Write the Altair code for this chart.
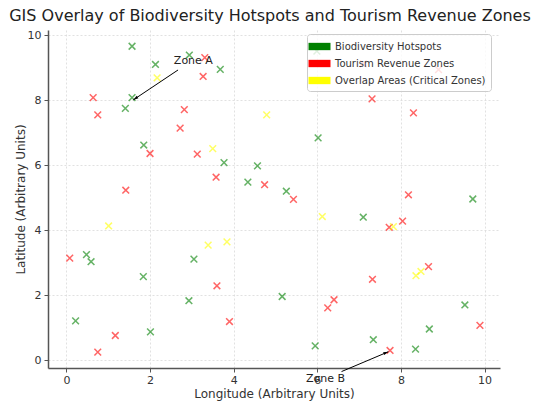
import altair as alt
import pandas as pd

# ---- data ----
categories = ["Biodiversity Hotspots", "Tourism Revenue Zones", "Overlap Areas (Critical Zones)"]
colors = ["green", "red", "yellow"]

bio_x = [1.57, 2.13, 2.94, 3.68, 1.57, 1.41, 1.85, 3.77, 4.57, 4.34, 5.26, 6.02, 5.99, 9.72,
         7.10, 5.16, 9.53, 8.68, 5.95, 7.34, 8.35, 0.48, 0.59, 3.05, 1.84, 2.93, 0.22, 2.01]
bio_y = [9.66, 9.10, 9.39, 8.95, 8.08, 7.75, 6.62, 6.08, 5.98, 5.48, 5.20, 6.84, 9.51, 4.96,
         4.40, 1.96, 1.70, 0.96, 0.44, 0.63, 0.34, 3.25, 3.03, 3.11, 2.57, 1.83, 1.21, 0.87]

tour_x = [3.31, 3.27, 0.64, 0.75, 2.82, 2.72, 2.00, 3.13, 3.58, 4.74, 1.42, 7.31, 8.30, 5.43,
          8.18, 7.72, 8.04, 8.66, 7.32, 6.40, 6.25, 9.89, 7.74, 0.08, 3.60, 1.17, 0.75, 3.90,
          7.10, 8.90]
tour_y = [9.31, 8.73, 8.08, 7.55, 7.71, 7.14, 6.36, 6.34, 5.63, 5.40, 5.23, 8.04, 7.61, 4.95,
          5.09, 4.09, 4.28, 2.88, 2.49, 1.86, 1.61, 1.07, 0.30, 3.14, 2.29, 0.76, 0.25, 1.19,
          9.12, 8.94]

overlap_x = [2.17, 4.79, 3.50, 6.12, 7.82, 8.36, 8.48, 1.01, 3.39, 3.84]
overlap_y = [8.69, 7.55, 6.51, 4.42, 4.11, 2.60, 2.73, 4.13, 3.54, 3.64]

ann_labels = ["Zone A", "Zone B"]
ann_text_x = [2.57, 5.73]
ann_text_y = [9.22, -0.58]
ann_tail_x = [2.67, 6.58]
ann_tail_y = [8.93, -0.35]
ann_head_x = [1.60, 7.70]
ann_head_y = [8.01, 0.26]
ann_head_angle = [236, 67]

x_ticks = [0, 2, 4, 6, 8, 10]
y_ticks = [0, 2, 4, 6, 8, 10]

# ---- tables ----
points = pd.concat([
    pd.DataFrame({"x": bio_x, "y": bio_y, "category": categories[0]}),
    pd.DataFrame({"x": tour_x, "y": tour_y, "category": categories[1]}),
    pd.DataFrame({"x": overlap_x, "y": overlap_y, "category": categories[2]}),
], ignore_index=True)

ann = pd.DataFrame({
    "label": ann_labels, "tx": ann_text_x, "ty": ann_text_y,
    "x0": ann_tail_x, "y0": ann_tail_y, "x1": ann_head_x, "y1": ann_head_y,
    "angle": ann_head_angle,
})

FONT = "DejaVu Sans"
xscale = alt.Scale(domain=[-0.44, 10.37], nice=False, zero=False)
yscale = alt.Scale(domain=[-0.24, 10.16], nice=False, zero=False)

axis_common = dict(
    grid=True, gridDash=[2, 2], gridColor="#d9d9d9", gridWidth=0.8,
    domainColor="#555555", domainWidth=1.5, tickColor="#555555", tickSize=4,
    labelFont=FONT, labelFontSize=11, labelColor="#333333",
    titleFont=FONT, titleFontSize=12, titleFontWeight="normal", titleColor="#333333",
)

x_enc = alt.X("x:Q", scale=xscale, axis=alt.Axis(values=x_ticks, title="Longitude (Arbitrary Units)",
                                                  labelPadding=2, titlePadding=3, **axis_common))
y_enc = alt.Y("y:Q", scale=yscale, axis=alt.Axis(values=y_ticks, title="Latitude (Arbitrary Units)",
                                                  labelPadding=3, titlePadding=0, **axis_common))

# visible "x" markers (stroke colour, no legend)
pts = alt.Chart(points).mark_point(
    shape="M-1,-1L1,1M-1,1L1,-1", filled=False, strokeWidth=1.5, size=45, opacity=0.6
).encode(
    x=x_enc, y=y_enc,
    color=alt.Color("category:N", sort=categories,
                    scale=alt.Scale(domain=categories, range=colors), legend=None),
)

# invisible layer that only supplies the patch-style legend
legend_layer = alt.Chart(points).mark_point(
    shape="M-1.5,-0.5H1.5V0.5H-1.5Z", filled=True, opacity=0, strokeWidth=0
).encode(
    x="x:Q", y="y:Q",
    fill=alt.Fill("category:N", sort=categories,
                  scale=alt.Scale(domain=categories, range=colors),
                  legend=alt.Legend(
                      title=None, orient="none", legendX=259, legendY=4,
                      symbolType="M-1.5,-0.5H1.5V0.5H-1.5Z", symbolSize=215,
                      symbolStrokeWidth=0, symbolOpacity=1,
                      labelFont=FONT, labelFontSize=10, labelColor="#333333",
                      labelLimit=400, rowPadding=4, padding=5,
                      fillColor="rgba(255,255,255,0.8)",
                      strokeColor="#cccccc", cornerRadius=3, labelOffset=8,
                  )),
)

rules = alt.Chart(ann).mark_rule(color="black", strokeWidth=1).encode(
    x="x0:Q", y="y0:Q", x2="x1:Q", y2="y1:Q"
)
heads = alt.Chart(ann).mark_point(
    shape="M0,0L-0.5,1.7L0.5,1.7Z", filled=True, color="black", opacity=1, size=36
).encode(x="x1:Q", y="y1:Q", angle=alt.Angle("angle:Q", scale=None))
texts = alt.Chart(ann).mark_text(
    align="left", baseline="middle", font=FONT, fontSize=11, color="#222222"
).encode(x="tx:Q", y="ty:Q", text="label:N")

chart = alt.layer(legend_layer, pts, rules, heads, texts).resolve_scale(
    color="independent", fill="independent"
).properties(
    width=452, height=338,
    title=alt.TitleParams(
        "GIS Overlay of Biodiversity Hotspots and Tourism Revenue Zones",
        font=FONT, fontSize=16, fontWeight="normal", color="#222222",
        anchor="middle", dx=-4, offset=5,
    ),
    autosize=alt.AutoSizeParams(type="none"),
    padding={"left": 40, "top": 22, "right": 32, "bottom": 35},
).configure_view(stroke=None)

chart.save("out.html", embed_options={"renderer": "svg", "actions": False})
